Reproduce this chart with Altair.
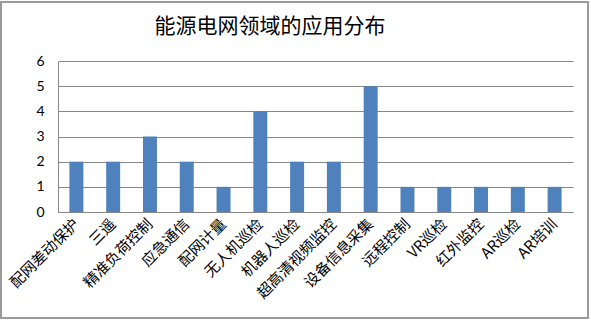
import altair as alt
import pandas as pd

categories = ["配网差动保护", "三遥", "精准负荷控制", "应急通信", "配网计量", "无人机巡检",
              "机器人巡检", "超高清视频监控", "设备信息采集", "远程控制", "VR巡检",
              "红外监控", "AR巡检", "AR培训"]
values = [2, 2, 3, 2, 1, 4, 2, 2, 5, 1, 1, 1, 1, 1]
y_ticks = [0, 1, 2, 3, 4, 5, 6]
title_text = "能源电网领域的应用分布"

df = pd.DataFrame({"cat": categories, "val": values})

bars = alt.Chart(df).mark_bar(color="#4F81BD").encode(
    x=alt.X("cat:N", sort=categories, title=None,
            scale=alt.Scale(paddingInner=0.62, paddingOuter=0.31),
            axis=alt.Axis(labelAngle=-45, labelAlign="right", labelBaseline="middle",
                          labelFont="Noto Sans CJK SC", labelFontSize=15, labelColor="#000000",
                          ticks=False, domainColor="#878787", labelPadding=9)),
    y=alt.Y("val:Q", title=None,
            scale=alt.Scale(domain=[0, 6], nice=False),
            axis=alt.Axis(values=y_ticks, labelFont="Lato", labelFontSize=14,
                          labelColor="#000000", ticks=False, domainColor="#878787",
                          gridColor="#878787", labelPadding=14)),
)

frame = alt.Chart(df).mark_rect(fill=None, stroke="#9a9a9a", strokeWidth=1.5).encode(
    x=alt.value(-57), x2=alt.value(530), y=alt.value(-59), y2=alt.value(257)
)

title = alt.Chart(pd.DataFrame({"t": [title_text]})).mark_text(
    font="Noto Sans CJK SC", fontSize=21, color="#000000", align="center", baseline="middle"
).encode(text="t:N", x=alt.value(212), y=alt.value(-34))

chart = alt.layer(frame, bars, title).properties(
    width=515, height=151,
    autosize=alt.AutoSizeParams(type="none"),
    padding={"left": 58, "top": 61, "right": 18, "bottom": 109},
).configure_view(stroke=None)

chart.save("out.html", embed_options={"renderer": "svg", "actions": False})
